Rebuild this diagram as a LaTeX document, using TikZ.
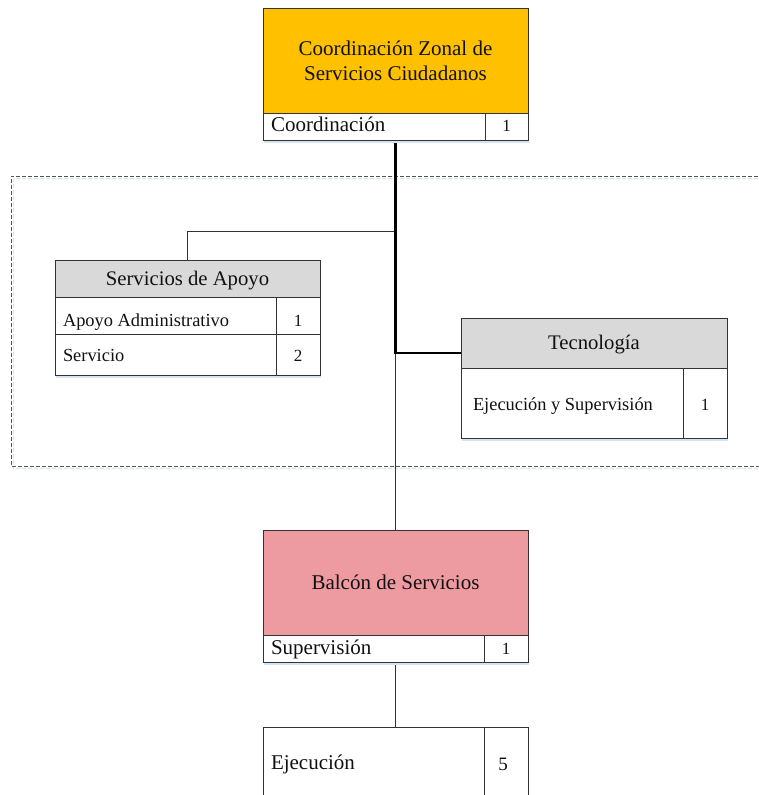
\documentclass[tikz,border=0pt]{standalone}
\usepackage{fontspec}
\setmainfont{Liberation Serif}
\usetikzlibrary{shadows,backgrounds}

\definecolor{unitorange}{HTML}{FFC000}
\definecolor{unitpink}{HTML}{EE9AA1}
\definecolor{unitgray}{HTML}{D9D9D9}
\definecolor{edgegray}{HTML}{333333}
\definecolor{dashgray}{HTML}{555555}
\definecolor{shadeblue}{HTML}{D5E3F3}
\definecolor{inktext}{HTML}{111111}

\tikzset{
  every node/.style={inner sep=0pt, outer sep=0pt, text=inktext},
  header/.style={draw=edgegray, line width=1pt, anchor=north west, align=center,
                 font=\fontsize{21}{25}\selectfont},
  oneline/.style={text height=13pt, text depth=0pt},
  rowbox/.style={draw=edgegray, line width=1pt, fill=white, anchor=north west},
  shaded/.style={general shadow={fill=shadeblue, shadow yshift=-3pt, shadow xshift=1pt}},
  lbl/.style={anchor=base west, font=\fontsize{21}{25}\selectfont},
  smalllbl/.style={anchor=base west, font=\fontsize{18.4}{22}\selectfont},
  num/.style={anchor=base, font=\fontsize{17}{20}\selectfont},
  divider/.style={draw=edgegray, line width=0.9pt},
  trunk/.style={line width=2.2pt, draw=black},
  branch/.style={line width=1pt, draw=edgegray},
  groupframe/.style={draw=dashgray, line width=1pt, dash pattern=on 4pt off 2pt},
  groupshade/.style={draw=shadeblue, line width=1pt, dash pattern=on 4pt off 2pt}
}

\begin{document}
\begin{tikzpicture}[x=1pt, y=-1pt]
\clip (0,0) rectangle (758,795);

% ---------- Coordinación Zonal ----------
\node[header, fill=unitorange, minimum width=265pt, minimum height=105pt] (czsc) at (263,8)
  {Coordinación Zonal de\\Servicios Ciudadanos};
\node[rowbox, shaded, minimum width=265pt, minimum height=27pt] (czscrow) at (czsc.south west) {};
\node[lbl] (czsclbl) at ([xshift=8pt, yshift=-5pt]czscrow.west) {Coordinación};
\draw[divider] ([xshift=222pt]czscrow.north west) -- ([xshift=222pt]czscrow.south west);
\node[num] (czscnum) at ([xshift=-21.5pt, yshift=-5pt]czscrow.east) {1};

% junction points on the trunk
\coordinate (apoyojoin) at ([yshift=-91pt]czscrow.south);
\coordinate (tecjoin) at ([yshift=-213pt]czscrow.south);

% ---------- Servicios de Apoyo ----------
\node[header, oneline, fill=unitgray, minimum width=265pt, minimum height=37pt,
      font=\fontsize{20.7}{24}\selectfont] (apoyo) at (55,260) {Servicios de Apoyo};
\node[rowbox, minimum width=265pt, minimum height=37pt] (apoyoa) at (apoyo.south west) {};
\node[rowbox, shaded, minimum width=265pt, minimum height=41pt] (apoyob) at (apoyoa.south west) {};
\draw[divider] ([xshift=221pt]apoyoa.north west) -- ([xshift=221pt]apoyob.south west);
\node[smalllbl] (apoyoalbl) at ([xshift=8pt, yshift=-11pt]apoyoa.west) {Apoyo Administrativo};
\node[num] (apoyoanum) at ([xshift=-22pt, yshift=-11pt]apoyoa.east) {1};
\node[smalllbl] (apoyoblbl) at ([xshift=8pt, yshift=-7pt]apoyob.west) {Servicio};
\node[num] (apoyobnum) at ([xshift=-22pt, yshift=-7pt]apoyob.east) {2};

% ---------- Tecnología ----------
\node[header, oneline, fill=unitgray, minimum width=266pt, minimum height=50pt,
      font=\fontsize{20.7}{24}\selectfont] (tec) at (461,318) {Tecnología};
\node[rowbox, shaded, minimum width=266pt, minimum height=70pt] (tecrow) at (tec.south west) {};
\draw[divider] ([xshift=222pt]tecrow.north west) -- ([xshift=222pt]tecrow.south west);
\node[smalllbl] (teclbl) at ([xshift=12pt, yshift=-7pt]tecrow.west) {Ejecución y Supervisión};
\node[num] (tecnum) at ([xshift=-22pt, yshift=-7pt]tecrow.east) {1};

% ---------- Balcón de Servicios ----------
\node[header, oneline, fill=unitpink, minimum width=265pt, minimum height=105pt] (balcon) at (263,530)
  {Balcón de Servicios};
\node[rowbox, shaded, minimum width=265pt, minimum height=27pt] (balconrow) at (balcon.south west) {};
\node[lbl] (balconlbl) at ([xshift=8pt, yshift=-6pt]balconrow.west) {Supervisión};
\draw[divider] ([xshift=221pt]balconrow.north west) -- ([xshift=221pt]balconrow.south west);
\node[num] (balconnum) at ([xshift=-22pt, yshift=-6pt]balconrow.east) {1};

% ---------- Ejecución ----------
\node[rowbox, minimum width=265pt, minimum height=72pt] (ejec) at (263,727) {};
\draw[divider] ([xshift=221pt]ejec.north west) -- ([xshift=221pt]ejec.south west);
\node[lbl] (ejeclbl) at ([xshift=8pt, yshift=-6pt]ejec.west) {Ejecución};
\node[num, font=\fontsize{19}{22}\selectfont] (ejecnum) at ([xshift=-25pt, yshift=-7pt]ejec.east) {5};

% ---------- frame and connectors, behind the boxes ----------
\begin{pgfonlayer}{background}
  \draw[groupshade] (770,178.5) -- (13,178.5) -- (13,468.5) -- (770,468.5);
  \draw[groupframe] (770,176) -- (11,176) -- (11,466) -- (770,466);
  \draw[branch] (apoyojoin) -| (apoyo.north);
  \draw[branch] (tecjoin) -- (balcon.north);
  \draw[branch] (balconrow.south) -- (ejec.north);
  \draw[trunk] (czscrow.south) -- (tecjoin) -- (tecjoin -| tec.west);
\end{pgfonlayer}
\end{tikzpicture}
\end{document}
